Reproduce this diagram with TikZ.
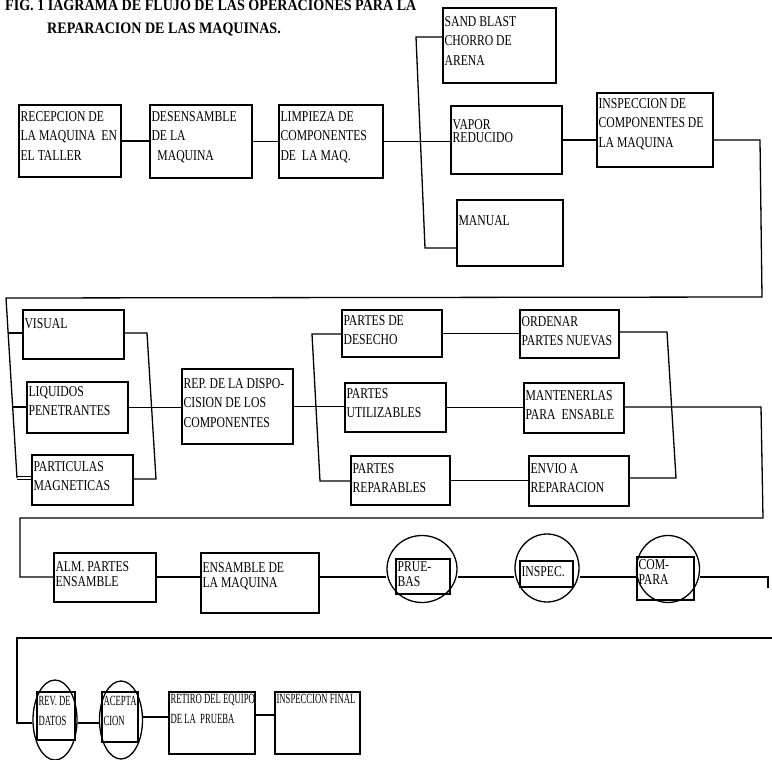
\documentclass[tikz,border=0pt]{standalone}
\usepackage{fontspec}
\setmainfont{Liberation Serif}
\newfontfamily\bxf{Liberation Serif}[FakeStretch=0.78]
\newfontfamily\smf{Liberation Serif}[FakeStretch=0.62]
\newfontfamily\ttlf{Liberation Serif Bold}[FakeStretch=0.88]
\usetikzlibrary{fit,shapes.geometric,calc}
\tikzset{
  box/.style={draw, line width=1.3pt, inner sep=0pt},
  ell/.style={draw, ellipse, line width=1.3pt, inner sep=0pt},
  lbl/.style={anchor=north west, inner sep=0pt, align=left, font=\bxf\fontsize{15}{19.5}\selectfont},
  lblt/.style={lbl, font=\bxf\fontsize{15}{15}\selectfont},
  lbls/.style={lbl, font=\smf\fontsize{14}{20}\selectfont},
  ln/.style={line width=1.3pt},
  ttl/.style={anchor=base west, inner sep=0pt, font=\ttlf\fontsize{16}{23}\selectfont}
}
% [style]{name}{x1}{y1}{x2}{y2}{dy}{text}
\newcommand\mkbox[8][lbl]{%
  \node[box, fit={(#3,#4)(#5,#6)}] (#2) {};
  \node[#1] (#2-t) at ([shift={(2pt,-#7pt)}]#2.north west) {#8};}
\begin{document}
\begin{tikzpicture}[x=1pt,y=-1pt]
\useasboundingbox (0,0) rectangle (772,760);
% title
\node[ttl] (t1) at (5,11) {FIG. 1 IAGRAMA DE FLUJO DE LAS OPERACIONES PARA LA};
\node[ttl] (t2) at (47,34) {REPARACION DE LAS MAQUINAS.};
% row 1
\mkbox{rec}{19}{105}{121}{177}{7}{RECEPCION DE\\LA MAQUINA\ \ EN\\EL TALLER}
\mkbox{des}{150}{105}{252}{178}{7}{DESENSAMBLE\\DE LA\\\ \ MAQUINA}
\mkbox{lim}{279}{105}{383}{178}{7}{LIMPIEZA DE\\COMPONENTES\\DE\ \ LA MAQ.}
\mkbox{sb}{443}{8}{556}{83}{9}{SAND BLAST\\CHORRO DE\\ARENA}
\mkbox{vap}{451}{106}{562}{174}{14}{VAPOR\\[-6pt]REDUCIDO}
\mkbox{man}{457}{200}{563}{266}{16}{MANUAL}
\mkbox{ins}{597}{93}{713}{167}{6}{INSPECCION DE\\COMPONENTES DE\\LA MAQUINA}
% row 2
\mkbox{vis}{23}{310}{124}{359}{9}{VISUAL}
\mkbox{liq}{27}{382}{128}{433}{5}{LIQUIDOS\\PENETRANTES}
\mkbox{par}{32}{455}{133}{505}{7}{PARTICULAS\\MAGNETICAS}
\mkbox{rep}{182}{369}{293}{444}{10}{REP. DE LA DISPO-\\CISION DE LOS\\COMPONENTES}
\mkbox{dsc}{342}{310}{442}{357}{6}{PARTES DE\\DESECHO}
\mkbox{uti}{345}{383}{446}{432}{6}{PARTES\\UTILIZABLES}
\mkbox{rpb}{351}{456}{450}{505}{8}{PARTES\\REPARABLES}
\mkbox{ord}{520}{310}{619}{358}{7}{ORDENAR\\PARTES NUEVAS}
\mkbox{mnt}{524}{383}{624}{433}{8}{MANTENERLAS\\PARA\ \ ENSABLE}
\mkbox{env}{529}{456}{629}{506}{8}{ENVIO A\\REPARACION}
% row 3
\mkbox[lblt]{alm}{54}{553}{156}{602}{9}{ALM. PARTES\\ENSAMBLE}
\mkbox[lblt]{ens}{201}{553}{319}{613}{10}{ENSAMBLE DE\\LA MAQUINA}
\node[ell, minimum width=70pt, minimum height=67pt] (pru) at (422,569) {};
\mkbox[lblt]{pruR}{396}{559}{450}{594}{3}{PRUE-\\BAS}
\node[ell, minimum width=64pt, minimum height=68pt] (isp) at (547,568) {};
\mkbox[lblt]{ispR}{520}{561}{573}{587}{6}{INSPEC.}
\node[ell, minimum width=63pt, minimum height=67pt] (cmp) at (668,569) {};
\mkbox[lblt]{cmpR}{637}{557}{694}{600}{3}{COM-\\PARA}
% row 4
\node[ell, minimum width=44pt, minimum height=80pt] (rev) at (55,720) {};
\mkbox[lbls]{revR}{37}{692}{75}{740}{5}{REV. DE\\DATOS}
\node[ell, minimum width=43pt, minimum height=78pt] (acp) at (121,720) {};
\mkbox[lbls]{acpR}{102}{692}{138}{742}{5}{ACEPTA\\CION}
\mkbox[lbls]{ret}{169}{692}{255}{754}{3}{RETIRO DEL EQUIPO\\DE LA\ \ PRUEBA}
\mkbox[lbls]{fin}{275}{692}{360}{754}{3}{INSPECCION FINAL}
% connectors row 1
\draw[ln] (rec.east) -- (rec.east -| des.west);
\draw[ln] (des.east) -- (des.east -| lim.west);
\coordinate (b1t) at (416,37);
\coordinate (b1b) at (425,248);
\draw[ln] (b1t -| sb.west) -- (b1t) -- (b1b) -- (b1b -| man.west);
\draw[ln] (lim.east) -- (lim.east -| vap.west);
\draw[ln] (vap.east) -- (vap.east -| ins.west);
\coordinate (r1a) at (760,140);
\coordinate (r1b) at (762,297);
\coordinate (r1c) at (6,298);
\coordinate (r1d) at (17,478);
\draw[ln] (ins.east |- r1a) -- (r1a) -- (r1b) -- (r1c) -- (r1d);
% row 2
\coordinate (l1) at ($(r1c)!0.194!(r1d)$);
\coordinate (l2) at ($(r1c)!0.606!(r1d)$);
\draw[ln] (l1) -- (l1 -| vis.west);
\draw[ln] (l2) -- (l2 -| liq.west);
\draw[ln] ([yshift=1.5pt]r1d) -- ([yshift=1.5pt]r1d -| par.west);
\draw[ln] ([yshift=-1.5pt]r1d) -- ([yshift=-1.5pt]r1d -| par.west);
\coordinate (c1t) at (147,333);
\coordinate (c1b) at (156,479);
\draw[ln] (vis.east |- c1t) -- (c1t) -- (c1b) -- (par.east |- c1b);
\draw[ln] (liq.east) -- (liq.east -| rep.west);
\coordinate (s2t) at (312,334);
\coordinate (s2b) at (320,481);
\draw[ln] (rep.east) -- (rep.east -| uti.west);
\draw[ln] (dsc.west |- s2t) -- (s2t) -- (s2b) -- (rpb.west |- s2b);
\draw[ln] (dsc.east) -- (dsc.east -| ord.west);
\draw[ln] (uti.east) -- (uti.east -| mnt.west);
\draw[ln] (rpb.east) -- (rpb.east -| env.west);
\coordinate (c2t) at (667,332);
\coordinate (c2b) at (676,478);
\draw[ln] (ord.east |- c2t) -- (c2t) -- (c2b) -- (env.east |- c2b);
\coordinate (r2a) at (761,407);
\coordinate (r2b) at (763,518);
\coordinate (r2c) at (20,518);
\coordinate (r2d) at (20,577);
\draw[ln] (mnt.east |- r2a) -- (r2a) -- (r2b) -- (r2c) -- (r2d) -- (r2d -| alm.west);
% row 3
\draw[ln] (alm.east |- r2d) -- (ens.west |- r2d);
\draw[ln] (ens.east |- r2d) -- (pru.west |- r2d);
\draw[ln] (pru.east |- r2d) -- (isp.west |- r2d);
\draw[ln] (isp.east |- r2d) -- (cmp.west |- r2d);
\coordinate (r3a) at (768,577);
\coordinate (r3b) at (768,588);
\draw[ln] (cmp.east |- r3a) -- (r3a) -- (r3b);
% row 4
\coordinate (r4a) at (772,638);
\coordinate (r4b) at (17,638);
\coordinate (r4c) at (17,723);
\draw[ln] (r4a) -- (r4b) -- (r4c) -- (rev.west |- r4c);
\draw[ln] (rev.east |- r4c) -- (acp.west |- r4c);
\coordinate (y4b) at (0,717);
\coordinate (y4c) at (0,715);
\draw[ln] (acp.east |- y4b) -- (ret.west |- y4b);
\draw[ln] (ret.east |- y4c) -- (fin.west |- y4c);
\end{tikzpicture}
\end{document}
